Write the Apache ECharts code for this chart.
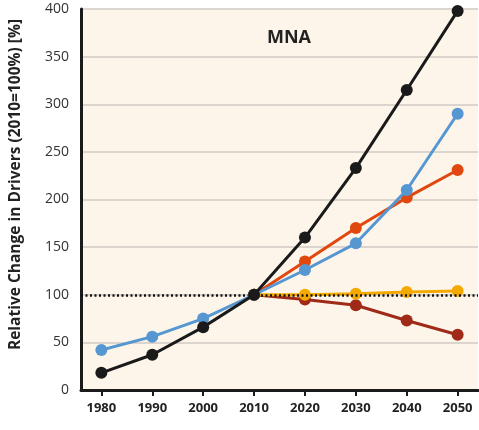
<!DOCTYPE html>
<html>
<head>
<meta charset="utf-8">
<script src="https://cdn.jsdelivr.net/npm/echarts@6/dist/echarts.min.js"></script>
<style>
  html, body { margin: 0; padding: 0; background: #fff; }
  #chart { width: 479px; height: 430px; }
</style>
</head>
<body>
<div id="chart"></div>
<script>
const years = [1980, 1990, 2000, 2010, 2020, 2030, 2040, 2050]
const futureYears = [2010, 2020, 2030, 2040, 2050]
const yTicks = [0, 50, 100, 150, 200, 250, 300, 350, 400]

// series values
const blackVals = [18, 37, 66, 100, 160, 233, 315, 398]
const blueVals = [42, 56, 75, 100, 126, 154, 210, 290]
const orangeVals = [100, 135, 170, 202, 231]
const yellowVals = [100, 100, 101, 103, 104]
const darkRedVals = [100, 95, 89, 73, 58]

const pair = (xs, vs) => xs.map((x, i) => [x, vs[i]])

const lineSeries = (name, color, data, z) => ({
  name: name,
  type: 'line',
  data: data,
  z: z,
  symbol: 'circle',
  symbolSize: 12,
  lineStyle: { color: color, width: 3 },
  itemStyle: { color: color },
  animation: false
})

const chart = echarts.init(document.getElementById('chart'))
const option = {
  animation: false,
  backgroundColor: '#ffffff',
  textStyle: { fontFamily: 'Open Sans' },
  grid: {
    left: 80, right: 1, top: 9, bottom: 40,
    show: true, backgroundColor: '#fdf5ea', borderWidth: 0
  },
  title: {
    text: 'MNA',
    left: 262, top: 24,
    textStyle: { fontSize: 18, fontWeight: 'bold', color: '#222', fontFamily: 'Open Sans' }
  },
  xAxis: {
    type: 'value',
    min: 1976, max: 2054,
    axisLine: { show: true, onZero: false, lineStyle: { color: '#1a1a1a', width: 3 } },
    axisTick: { show: true, inside: false, length: 6, customValues: years, lineStyle: { color: '#1a1a1a', width: 2 } },
    axisLabel: {
      customValues: years, margin: 12,
      formatter: v => String(v),
      color: '#222', fontSize: 13, fontWeight: 'bold'
    },
    splitLine: { show: false }
  },
  yAxis: {
    type: 'value',
    min: 0, max: 400, interval: 50,
    name: 'Relative Change in Drivers (2010=100%) [%]',
    nameLocation: 'middle',
    nameGap: 57,
    nameTextStyle: { fontSize: 15.5, fontWeight: 'bold', color: '#222', padding: [0, 0, 0, 30] },
    axisLine: { show: true, lineStyle: { color: '#1a1a1a', width: 3 } },
    axisTick: { show: false },
    axisLabel: { color: '#333', fontSize: 14, margin: 12 },
    splitLine: { lineStyle: { color: '#cfcac4', width: 1.5 } }
  },
  series: [
    lineSeries('darkred', '#9e2a17', pair(futureYears, darkRedVals), 2),
    lineSeries('yellow', '#f4a900', pair(futureYears, yellowVals), 3),
    lineSeries('orange', '#e0480f', pair(futureYears, orangeVals), 4),
    lineSeries('blue', '#5697d2', pair(years, blueVals), 5),
    Object.assign(lineSeries('black', '#1a1a1a', pair(years, blackVals), 6), {
      markLine: {
        silent: true,
        symbol: 'none',
        label: { show: false },
        lineStyle: { color: '#111', type: [2, 2.5], width: 2.5 },
        data: [{ yAxis: 100 }]
      }
    })
  ]
}
chart.setOption(option)
</script>
</body>
</html>
